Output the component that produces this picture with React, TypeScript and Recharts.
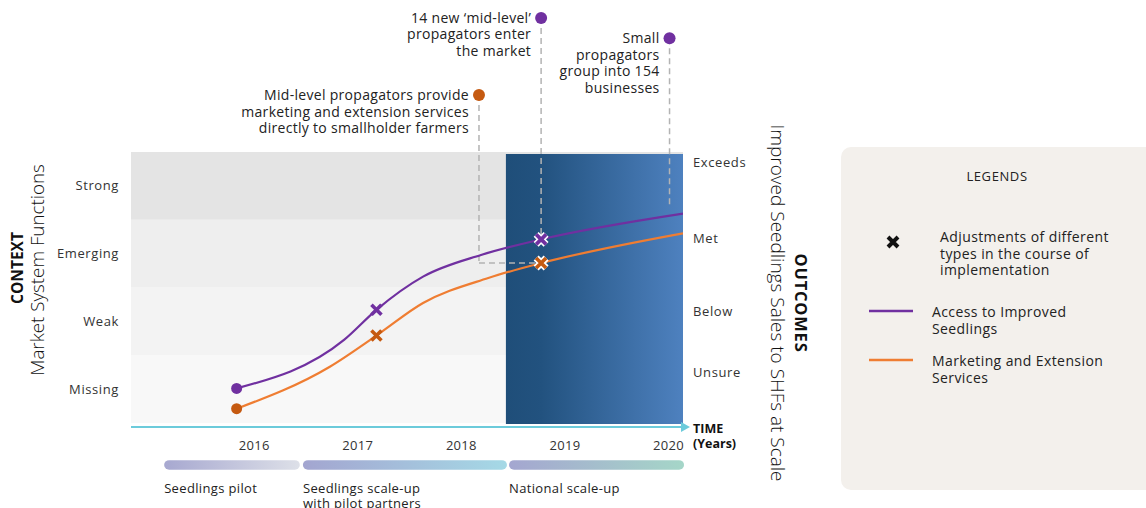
import React from 'react';
import {
  ComposedChart,
  Line,
  XAxis,
  YAxis,
  ReferenceArea,
  ReferenceLine,
  ReferenceDot,
  Legend,
} from 'recharts';

// Niveaux "Market System Functions" (axe gauche)
const contextLevels = ['Missing', 'Weak', 'Emerging', 'Strong'];
const contextTicks = [0.5, 1.5, 2.5, 3.5];

// Niveaux "Outcomes" (axe droit)
const outcomeLabels = ['Exceeds', 'Met', 'Below', 'Unsure'];
const outcomeTicks = [3.84, 2.73, 1.65, 0.74];

const yearTicks = [2016, 2017, 2018, 2019, 2020];

// Séries
const accessYears = [2015.83, 2016.87, 2017.18, 2017.63, 2018.19, 2018.77, 2020.14];
const accessValues = [0.51, 1.23, 1.67, 2.16, 2.48, 2.71, 3.09];
const marketingYears = [2015.83, 2016.73, 2017.18, 2017.63, 2018.26, 2018.77, 2020.14];
const marketingValues = [0.21, 0.83, 1.29, 1.77, 2.14, 2.36, 2.8];

const startYear = 2015.83;
const adjustmentYears = [2017.18, 2018.77];

// Fenêtre "national scale-up" (bloc bleu)
const scaleUpWindow = [2018.43, 2020.14];

// Phases du programme
const phaseNames = [['Seedlings pilot'], ['Seedlings scale-up', 'with pilot partners'], ['National scale-up']];
const phaseStarts = [2015.13, 2016.47, 2018.46];
const phaseEnds = [2016.44, 2018.44, 2020.15];

// Annotations
const noteSeries = ['marketing', 'access', 'access'];
const noteYears = [2018.17, 2018.77, 2020.01];
const noteLevels = [4.84, 5.98, 5.68];
const noteEndLevels = [2.36, 2.71, 3.19];
const noteTexts = [
  ['Mid-level propagators provide', 'marketing and extension services', 'directly to smallholder farmers'],
  ['14 new \u2018mid-level\u2019', 'propagators enter', 'the market'],
  ['Small', 'propagators', 'group into 154', 'businesses'],
];

const PURPLE = '#7030a0';
const ORANGE_LINE = '#ef7d32';
const ORANGE_DOT = '#c55a11';
const FONT = '"Open Sans", sans-serif';

const accessData = accessYears.map((year, i) => ({ year, value: accessValues[i] }));
const marketingData = marketingYears.map((year, i) => ({ year, value: marketingValues[i] }));

const crossPath = (cx, cy, s = 5) =>
  `M${cx - s},${cy - s}L${cx + s},${cy + s}M${cx + s},${cy - s}L${cx - s},${cy + s}`;

const makeDot = (lineColor, dotColor) => (props) => {
  const { cx, cy, payload, index } = props;
  if (payload.year === startYear) {
    return <circle key={`d-${index}`} cx={cx} cy={cy} r={5.5} fill={dotColor} />;
  }
  if (adjustmentYears.includes(payload.year)) {
    const outlined = payload.year >= scaleUpWindow[0];
    return (
      <g key={`d-${index}`}>
        {outlined && <path d={crossPath(cx, cy)} stroke="#fff" strokeWidth={7} />}
        <path d={crossPath(cx, cy)} stroke={dotColor} strokeWidth={3.6} />
      </g>
    );
  }
  return <g key={`d-${index}`} />;
};

const bandFills = ['#f8f8f8', '#f3f3f3', '#eeeeee', '#e4e4e4'];
const phaseGrads = [
  ['#a7a8d0', '#dde0e8'],
  ['#a3a5d0', '#a5d9e6'],
  ['#a4a6d0', '#a5d6c8'],
];

const tickStyle = { fill: '#333', fontSize: 13, fontFamily: FONT, letterSpacing: 0.6 };

const LegendBox = (props) => {
  const items = props.payload || [];
  const txt = {
    position: 'absolute',
    fontSize: 14,
    lineHeight: '16.5px',
    letterSpacing: 0.4,
    color: '#222',
    fontFamily: FONT,
    whiteSpace: 'nowrap',
  };
  return (
    <div
      style={{
        position: 'relative',
        width: 320,
        height: 343,
        background: '#f3f0ec',
        borderRadius: 10,
      }}
    >
      <div style={{ ...txt, left: 0, width: 312, top: 21, textAlign: 'center', fontSize: 13, letterSpacing: 0.6 }}>
        LEGENDS
      </div>
      <svg style={{ position: 'absolute', left: 0, top: 0 }} width={120} height={240}>
        <path d={crossPath(52, 95, 5)} stroke="#111" strokeWidth={4} />
        {items.map((it, i) => (
          <line key={i} x1={28} x2={72} y1={164 + i * 49} y2={164 + i * 49} stroke={it.color} strokeWidth={2.5} />
        ))}
      </svg>
      <div style={{ ...txt, left: 99, top: 82 }}>
        Adjustments of different
        <br />
        types in the course of
        <br />
        implementation
      </div>
      {items.map((it, i) => {
        const words = String(it.value).split('|');
        return (
          <div key={i} style={{ ...txt, left: 91, top: 157 + i * 49 }}>
            {words[0]}
            <br />
            {words[1]}
          </div>
        );
      })}
    </div>
  );
};

const App = () => {
  return (
    <div style={{ position: 'absolute', left: 0, top: 0, width: 1146, height: 508, overflow: 'hidden', background: '#fff' }}>
      <ComposedChart
        width={1146}
        height={508}
        margin={{ top: 152, right: 403, bottom: 51, left: 71 }}
        style={{ fontFamily: FONT }}
      >
        <defs>
          <linearGradient id="blueWin" x1="0" y1="0" x2="1" y2="0">
            <stop offset="0" stopColor="#1f4e79" />
            <stop offset="0.2" stopColor="#22527f" />
            <stop offset="1" stopColor="#4e81bf" />
          </linearGradient>
          {phaseGrads.map((g, i) => (
            <linearGradient key={i} id={`phase-${i}`} x1="0" y1="0" x2="1" y2="0">
              <stop offset="0" stopColor={g[0]} />
              <stop offset="1" stopColor={g[1]} />
            </linearGradient>
          ))}
        </defs>

        <XAxis
          dataKey="year"
          type="number"
          domain={[2014.81, 2020.14]}
          ticks={yearTicks}
          allowDataOverflow
          tickLine={false}
          tickSize={0}
          tickMargin={14}
          axisLine={{ stroke: '#6ccbdb', strokeWidth: 2 }}
          tick={{ ...tickStyle, letterSpacing: 0.3 }}
          height={30}
        />
        <YAxis
          yAxisId="ctx"
          type="number"
          domain={[-0.06, 4]}
          ticks={contextTicks}
          tickFormatter={(v) => contextLevels[contextTicks.indexOf(v)]}
          allowDataOverflow
          axisLine={false}
          tickLine={false}
          tickSize={0}
          tickMargin={12}
          width={60}
          tick={tickStyle}
        />
        <YAxis
          yAxisId="out"
          orientation="right"
          type="number"
          domain={[-0.06, 4]}
          ticks={outcomeTicks}
          tickFormatter={(v) => outcomeLabels[outcomeTicks.indexOf(v)]}
          allowDataOverflow
          axisLine={false}
          tickLine={false}
          tickSize={0}
          tickMargin={10}
          width={60}
          tick={tickStyle}
        />

        {bandFills.map((f, i) => (
          <ReferenceArea
            key={`band-${i}`}
            yAxisId="ctx"
            x1={2014.81}
            x2={2020.14}
            y1={i}
            y2={i + 1}
            fill={f}
            fillOpacity={1}
            stroke="none"
          />
        ))}
        <ReferenceArea
          yAxisId="ctx"
          x1={scaleUpWindow[0]}
          x2={scaleUpWindow[1]}
          y1={-0.015}
          y2={3.97}
          fill="url(#blueWin)"
          fillOpacity={1}
          stroke="none"
        />

        {phaseNames.map((lines, i) => (
          <ReferenceArea
            key={`phase-${i}`}
            yAxisId="ctx"
            x1={phaseStarts[i]}
            x2={phaseEnds[i]}
            y1={-0.69}
            y2={-0.55}
            ifOverflow="visible"
            shape={(p) => (
              <g>
                <rect x={p.x} y={p.y} width={p.width} height={p.height} rx={5} fill={`url(#phase-${i})`} />
                <text x={p.x} y={p.y + 33} fontSize={13} letterSpacing={0.35} fill="#222" fontFamily={FONT}>
                  {lines.map((l, j) => (
                    <tspan key={j} x={p.x} dy={j === 0 ? 0 : 15}>
                      {l}
                    </tspan>
                  ))}
                </text>
              </g>
            )}
          />
        ))}

        {noteYears.map((yr, i) => {
          const segs = [
            [
              { x: yr, y: noteLevels[i] },
              { x: yr, y: noteEndLevels[i] },
            ],
          ];
          if (noteSeries[i] === 'marketing') {
            segs.push([
              { x: yr, y: noteEndLevels[i] },
              { x: adjustmentYears[1], y: noteEndLevels[i] },
            ]);
          }
          return segs.map((s, j) => (
            <ReferenceLine
              key={`seg-${i}-${j}`}
              yAxisId="ctx"
              segment={s}
              ifOverflow="visible"
              stroke="#b3b3b3"
              strokeWidth={1.5}
              strokeDasharray="6 4"
            />
          ));
        })}

        <ReferenceDot
          yAxisId="ctx"
          x={2020.14}
          y={-0.06}
          r={5}
          ifOverflow="visible"
          shape={(p) => (
            <g>
              <path d={`M${p.cx - 2},${p.cy - 5}L${p.cx + 7},${p.cy}L${p.cx - 2},${p.cy + 5}Z`} fill="#6ccbdb" />
              <text x={p.cx + 10} y={p.cy + 6} fontSize={12.5} fontWeight={700} fill="#111" fontFamily={FONT}>
                <tspan x={p.cx + 10}>TIME</tspan>
                <tspan x={p.cx + 10} dy={15}>
                  (Years)
                </tspan>
              </text>
            </g>
          )}
        />

        <Line
          yAxisId="ctx"
          data={accessData}
          dataKey="value"
          name="Access to Improved|Seedlings"
          type="monotone"
          stroke={PURPLE}
          strokeWidth={2.2}
          dot={makeDot(PURPLE, PURPLE)}
          activeDot={false}
          isAnimationActive={false}
        />
        <Line
          yAxisId="ctx"
          data={marketingData}
          dataKey="value"
          name="Marketing and Extension|Services"
          type="monotone"
          stroke={ORANGE_LINE}
          strokeWidth={2.2}
          dot={makeDot(ORANGE_LINE, ORANGE_DOT)}
          activeDot={false}
          isAnimationActive={false}
        />

        {noteYears.map((yr, i) => (
          <ReferenceDot
            key={`note-${i}`}
            yAxisId="ctx"
            x={yr}
            y={noteLevels[i]}
            r={6}
            ifOverflow="visible"
            shape={(p) => (
              <g>
                <circle cx={p.cx} cy={p.cy} r={6} fill={noteSeries[i] === 'access' ? PURPLE : ORANGE_DOT} />
                <text
                  x={p.cx - 10}
                  y={p.cy + 5}
                  textAnchor="end"
                  fontSize={14}
                  letterSpacing={0.3}
                  fill="#222"
                  fontFamily={FONT}
                >
                  {noteTexts[i].map((l, j) => (
                    <tspan key={j} x={p.cx - 10} dy={j === 0 ? 0 : 16.5}>
                      {l}
                    </tspan>
                  ))}
                </text>
              </g>
            )}
          />
        ))}

        <Legend
          layout="horizontal"
          align="center"
          verticalAlign="middle"
          wrapperStyle={{ left: 841, top: 147, width: 320 }}
          content={LegendBox}
        />
      </ComposedChart>

      <svg style={{ position: 'absolute', left: 0, top: 0, pointerEvents: 'none' }} width={1146} height={508}>
        <g fontFamily={FONT} fill="#111">
          <text transform="translate(23,268) rotate(-90)" textAnchor="middle" fontSize={15.5} fontWeight={700}>
            CONTEXT
          </text>
          <text transform="translate(44,270) rotate(-90)" textAnchor="middle" fontSize={18.8} fontWeight={300}>
            Market System Functions
          </text>
          <text
            transform="translate(795,303) rotate(90)"
            textAnchor="middle"
            fontSize={16.5}
            fontWeight={700}
            letterSpacing={0.8}
          >
            OUTCOMES
          </text>
          <text transform="translate(771,303) rotate(90)" textAnchor="middle" fontSize={19} fontWeight={300}>
            Improved Seedlings Sales to SHFs at Scale
          </text>
        </g>
      </svg>
    </div>
  );
};

export default App;
